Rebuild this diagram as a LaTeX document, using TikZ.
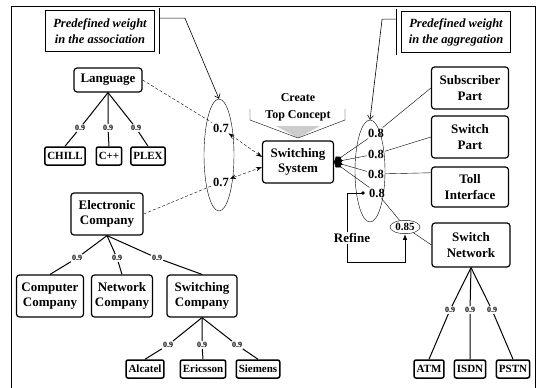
\documentclass[tikz,border=0pt]{standalone}
\usepackage{fontspec}
\setmainfont{Liberation Serif}
\usetikzlibrary{arrows.meta,shapes.geometric}
\begin{document}
\begin{tikzpicture}[x=1pt,y=-1pt,
    concept/.style={draw,line width=1.2pt,rounded corners=3pt,align=center,
        font=\fontsize{13}{15.5}\selectfont\bfseries,inner sep=1pt,minimum height=42pt},
    leaf/.style={draw,line width=1.5pt,rounded corners=2pt,inner xsep=2.5pt,inner ysep=1pt,
        font=\fontsize{11}{13}\selectfont\bfseries,minimum height=18pt},
    note/.style={draw,line width=0.8pt,align=center,minimum width=109pt,minimum height=41pt,
        font=\fontsize{12.5}{16}\selectfont\bfseries\itshape},
    weight/.style={font=\fontsize{12.5}{14}\selectfont\bfseries,inner sep=1pt},
    wt/.style={font=\fontsize{8}{9}\selectfont\bfseries,inner sep=1pt},
    tree/.style={line width=1pt},
    assoc/.style={thin,densely dashed,{Stealth[length=6pt]}-{Stealth[length=6pt]}},
    aggr/.style={thin,-{Diamond[length=9pt,width=7pt]}},
    lead/.style={line width=0.6pt,-{Straight Barb[length=4pt,width=6pt]}}]
    \useasboundingbox (0,0) rectangle (538,388);
    \draw[line width=1pt] (11,388) -- (11,6) -- (535,6) -- (535,388);

    % callouts
    \node[note] (anote) at (100,31) {Predefined weight\\in the association};
    \node[note] (gnote) at (456,32) {Predefined weight\\in the aggregation};
    \draw[line width=0.8pt] ([xshift=4pt,yshift=2pt]anote.north east) -- ([xshift=4pt,yshift=-2pt]anote.south east);
    \draw[line width=0.8pt] ([xshift=-5pt,yshift=2pt]gnote.north west) -- ([xshift=-5pt,yshift=-2pt]gnote.south west);

    % concepts
    \node[concept,minimum width=68pt,minimum height=24pt] (lang) at (108,80) {Language};
    \node[concept,minimum width=71pt] (ss) at (298,162) {Switching\\System};
    \node[concept,minimum width=72pt] (ec) at (107,214) {Electronic\\Company};
    \node[concept,minimum width=67pt] (cc) at (50,296) {Computer\\Company};
    \node[concept,minimum width=61pt] (nc) at (122,296) {Network\\Company};
    \node[concept,minimum width=70pt] (sc) at (202,296) {Switching\\Company};
    \node[concept,minimum width=77pt] (sp) at (470,88) {Subscriber\\Part};
    \node[concept,minimum width=77pt] (swp) at (470,137) {Switch\\Part};
    \node[concept,minimum width=77pt,minimum height=40pt] (ti) at (470,187) {Toll\\Interface};
    \node[concept,minimum width=78pt,minimum height=44pt] (sn) at (471,245) {Switch\\Network};

    % leaves
    \node[leaf] (chill) at (65,156) {CHILL};
    \node[leaf] (cpp) at (109,156) {C++};
    \node[leaf] (plex) at (148,156) {PLEX};
    \node[leaf] (alc) at (145,369) {Alcatel};
    \node[leaf] (eri) at (203,369) {Ericsson};
    \node[leaf] (sie) at (258,369) {Siemens};
    \node[leaf] (atm) at (429,369) {ATM};
    \node[leaf] (isdn) at (470,369) {ISDN};
    \node[leaf] (pstn) at (513,369) {PSTN};

    % is-a weights
    \node[wt] (l1) at (80,128) {0.9};
    \node[wt] (l2) at (108,128) {0.9};
    \node[wt] (l3) at (136,128) {0.9};
    \node[wt] (e1) at (77,258) {0.9};
    \node[wt] (e2) at (117,258) {0.9};
    \node[wt] (e3) at (157,258) {0.9};
    \node[wt] (s1) at (168,345) {0.9};
    \node[wt] (s2) at (202,345) {0.9};
    \node[wt] (s3) at (237,345) {0.9};
    \node[wt] (n1) at (450,310) {0.9};
    \node[wt] (n2) at (470,310) {0.9};
    \node[wt] (n3) at (492,310) {0.9};

    \draw[tree] (lang.south) -- (l1) -- (chill.north);
    \draw[tree] (lang.south) -- (l2) -- (cpp.north);
    \draw[tree] (lang.south) -- (l3) -- (plex.north);
    \draw[tree] (ec.south) -- (e1) -- (cc.north);
    \draw[tree] (ec.south) -- (e2) -- (nc.north);
    \draw[tree] (ec.south) -- (e3) -- (sc.north);
    \draw[tree] (sc.south) -- (s1) -- (alc.north);
    \draw[tree] (sc.south) -- (s2) -- (eri.north);
    \draw[tree] (sc.south) -- (s3) -- (sie.north);
    \draw[tree] (sn.south) -- (n1) -- (atm.north);
    \draw[tree] (sn.south) -- (n2) -- (isdn.north);
    \draw[tree] (sn.south) -- (n3) -- (pstn.north);

    % association
    \node[draw,thin,ellipse,minimum width=30pt,minimum height=112pt] (aell) at (219,155) {};
    \node[weight] (w1) at (221,128) {0.7};
    \node[weight] (w2) at (221,182) {0.7};
    \draw[assoc] (lang.east) -- (w1) -- (ss.172);
    \draw[assoc] (ec.east) -- (w2) -- (ss.188);
    \draw[lead] ([xshift=4pt,yshift=-8pt]anote.north east) -- ++(26,0) -- (aell.north);

    % aggregation
    \node[draw,thin,ellipse,minimum width=30pt,minimum height=102pt] (gell) at (370,171) {};
    \node[weight] (g1) at (376,133) {0.8};
    \node[weight] (g2) at (376,154) {0.8};
    \node[weight] (g3) at (376,174) {0.8};
    \node[weight] (g4) at (377,193) {0.8};
    \node[draw,ellipse,inner sep=1pt,font=\fontsize{11}{12}\selectfont\bfseries] (w85) at (405,227) {0.85};
    \draw[aggr] (sp.west) -- (g1) -- (ss.east);
    \draw[aggr] (swp.west) -- (g2) -- (ss.east);
    \draw[aggr] (ti.160) -- (g3) -- (ss.east);
    \draw[aggr] (sn.west) -- (w85) -- (g4) -- (ss.east);
    \draw[lead] ([xshift=-5pt,yshift=-8pt]gnote.north west) -- ++(-14,0) -- (gell.north);

    % refine loop
    \coordinate (rdot) at ([xshift=-5pt]g4.west);
    \coordinate (rb) at (347,262);
    \fill (rdot) circle (1.8pt);
    \draw[line width=0.8pt,-{Latex[length=6pt]}] (rdot) -| (rb) -| (w85.south);
    \node[fill=white,inner sep=1pt,font=\fontsize{13}{15}\selectfont\bfseries] (refine) at (352,238) {Refine};

    % top concept marker
    \fill[gray!40] (276,126) -- (298,138) -- (320,126) -- cycle;
    \draw (250,109) -- (250,120) -- (298,138) -- (345,120) -- (345,109);
    \node[align=center,font=\fontsize{12}{17}\selectfont\bfseries] (ctc) at (298,107) {Create\\Top Concept};
\end{tikzpicture}
\end{document}
